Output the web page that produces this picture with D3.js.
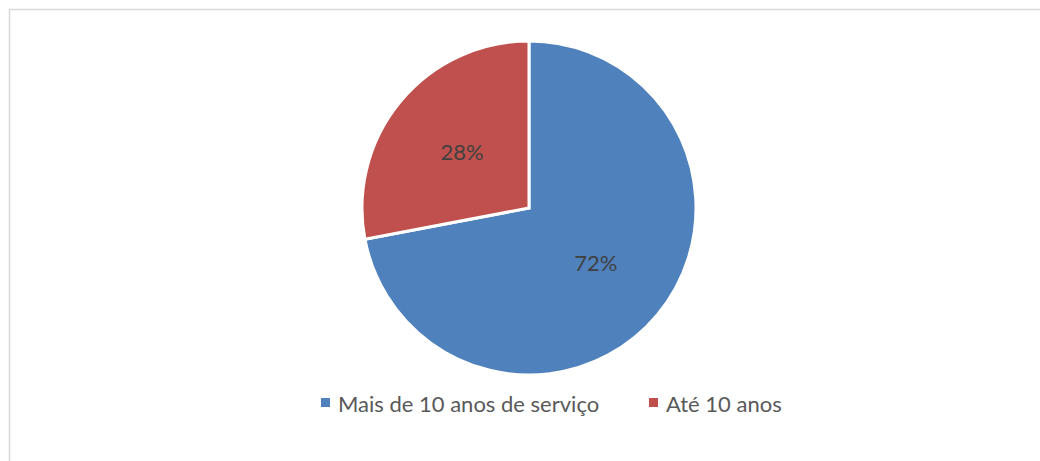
<!DOCTYPE html>
<html>
<head>
<meta charset="utf-8">
<script src="https://cdn.jsdelivr.net/npm/d3@7"></script>
<style>
  html, body { margin: 0; padding: 0; background: #fff; }
  svg { display: block; }
</style>
</head>
<body>
<svg id="chart" width="1040" height="461"></svg>
<script>
const categories = ["Mais de 10 anos de serviço", "Até 10 anos"];
const values = [72, 28];
const labels = ["72%", "28%"];
const colors = ["#4F81BD", "#C0504D"];

const svg = d3.select("#chart");
const W = 1040, H = 461;

// chart area border (top & left visible)
svg.append("path")
  .attr("d", `M9.5,${H} L9.5,9.5 L${W},9.5`)
  .attr("fill", "none")
  .attr("stroke", "#d9d9d9")
  .attr("stroke-width", 1.5);

const cx = 529, cy = 208, r = 167;
const pie = d3.pie().sort(null).value(d => d)(values);
const arc = d3.arc().innerRadius(0).outerRadius(r);
const labelArc = d3.arc().innerRadius(r * 0.52).outerRadius(r * 0.52);

const g = svg.append("g").attr("transform", `translate(${cx},${cy})`);
g.selectAll("path.slice").data(pie).enter().append("path")
  .attr("class", "slice")
  .attr("d", arc)
  .attr("fill", (d, i) => colors[i])
  .attr("stroke", "#fff")
  .attr("stroke-width", 3)
  .attr("stroke-linejoin", "miter");

g.selectAll("text.lbl").data(pie).enter().append("text")
  .attr("class", "lbl")
  .attr("transform", d => `translate(${labelArc.centroid(d)})`)
  .attr("text-anchor", "middle")
  .attr("dy", "0.35em")
  .attr("font-family", "Lato, 'Open Sans', sans-serif")
  .attr("font-size", 22)
  .attr("fill", "#404040")
  .text((d, i) => labels[i]);

// legend
const legendX = [321, 649];
const leg = svg.append("g");
categories.forEach((c, i) => {
  leg.append("rect")
    .attr("x", legendX[i]).attr("y", 398)
    .attr("width", 9).attr("height", 9)
    .attr("fill", colors[i]);
  leg.append("text")
    .attr("x", legendX[i] + 17).attr("y", 412)
    .attr("font-family", "Lato, 'Open Sans', sans-serif")
    .attr("font-size", 22)
    .attr("fill", "#595959")
    .text(c);
});
</script>
</body>
</html>
